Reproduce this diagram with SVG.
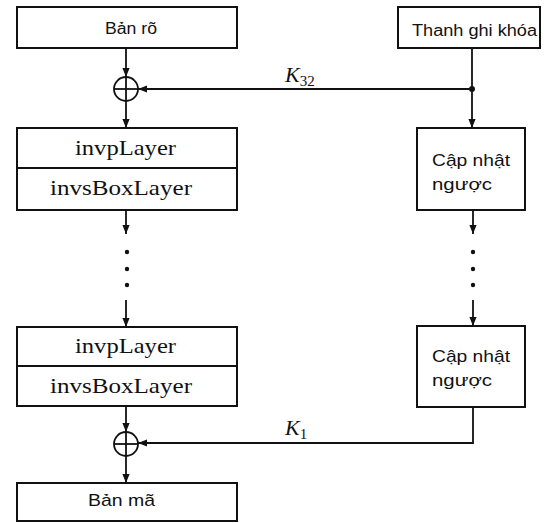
<svg xmlns="http://www.w3.org/2000/svg" width="548" height="523" viewBox="0 0 548 523">
<style>
.box{fill:#fff;stroke:#111;stroke-width:2}
.ln{fill:none;stroke:#111;stroke-width:1.8}
.sans{font-family:"Liberation Sans","DejaVu Sans",sans-serif;fill:#111}
.serif{font-family:"Liberation Serif","DejaVu Serif",serif;fill:#111}
.dot{fill:#111}
</style>
<defs>
<marker id="ah" viewBox="0 0 10 10" refX="10" refY="5" markerWidth="9" markerHeight="9" markerUnits="userSpaceOnUse" orient="auto">
<path d="M0,1 L10,5 L0,9 Z" fill="#111"/>
</marker>
</defs>
<g id="ban-ro"><rect class="box" x="17" y="7" width="220" height="41"/><text class="sans" x="105" y="34" font-size="16" textLength="52" lengthAdjust="spacingAndGlyphs">Bản rõ</text></g>
<g id="thanh-ghi-khoa"><rect class="box" x="398" y="7" width="142" height="41"/><text class="sans" x="412" y="36" font-size="16" textLength="125" lengthAdjust="spacingAndGlyphs">Thanh ghi khóa</text></g>
<g id="xor1"><circle class="ln" cx="126" cy="89" r="12"/><line class="ln" x1="114" y1="89" x2="138" y2="89"/><line class="ln" x1="126" y1="77" x2="126" y2="101"/></g>
<g id="layer1"><rect class="box" x="17" y="128" width="220" height="40"/><text class="serif" x="75" y="155" font-size="21" textLength="101" lengthAdjust="spacingAndGlyphs">invpLayer</text><rect class="box" x="17" y="168" width="220" height="42"/><text class="serif" x="50" y="195" font-size="21" textLength="142" lengthAdjust="spacingAndGlyphs">invsBoxLayer</text></g>
<g id="capnhat1"><rect class="box" x="417" y="128" width="108" height="82"/><text class="sans" x="432" y="166" font-size="17" textLength="78" lengthAdjust="spacingAndGlyphs">Cập nhật</text><text class="sans" x="432" y="190" font-size="17" textLength="60" lengthAdjust="spacingAndGlyphs">ngược</text></g>
<g id="layer2"><rect class="box" x="17" y="327" width="220" height="39"/><text class="serif" x="75" y="353" font-size="21" textLength="101" lengthAdjust="spacingAndGlyphs">invpLayer</text><rect class="box" x="17" y="366" width="220" height="40"/><text class="serif" x="50" y="393" font-size="21" textLength="142" lengthAdjust="spacingAndGlyphs">invsBoxLayer</text></g>
<g id="capnhat2"><rect class="box" x="417" y="326" width="108" height="81"/><text class="sans" x="432" y="362" font-size="17" textLength="78" lengthAdjust="spacingAndGlyphs">Cập nhật</text><text class="sans" x="432" y="386" font-size="17" textLength="60" lengthAdjust="spacingAndGlyphs">ngược</text></g>
<g id="xor2"><circle class="ln" cx="126" cy="444" r="12"/><line class="ln" x1="114" y1="444" x2="138" y2="444"/><line class="ln" x1="126" y1="432" x2="126" y2="456"/></g>
<g id="ban-ma"><rect class="box" x="17" y="483" width="220" height="38"/><text class="sans" x="88" y="506" font-size="17" textLength="67" lengthAdjust="spacingAndGlyphs">Bản mã</text></g>
<g id="connectors">
<line class="ln" x1="126" y1="48" x2="126" y2="77" marker-end="url(#ah)"/>
<line class="ln" x1="126" y1="101" x2="126" y2="128" marker-end="url(#ah)"/>
<line class="ln" x1="472" y1="48" x2="472" y2="89"/>
<circle class="dot" cx="472" cy="89" r="3"/>
<line class="ln" x1="472" y1="89" x2="138" y2="89" marker-end="url(#ah)"/>
<line class="ln" x1="472" y1="89" x2="472" y2="128" marker-end="url(#ah)"/>
<text class="serif" x="285" y="82" font-size="22" font-style="italic">K<tspan font-size="15" font-style="normal" dy="4">32</tspan></text>
<line class="ln" x1="126" y1="210" x2="126" y2="234" marker-end="url(#ah)"/>
<circle class="dot" cx="127" cy="252" r="2.2"/><circle class="dot" cx="127" cy="269" r="2.2"/><circle class="dot" cx="127" cy="285" r="2.2"/>
<line class="ln" x1="126" y1="300" x2="126" y2="327" marker-end="url(#ah)"/>
<line class="ln" x1="473" y1="210" x2="473" y2="234" marker-end="url(#ah)"/>
<circle class="dot" cx="473" cy="252" r="2.2"/><circle class="dot" cx="473" cy="269" r="2.2"/><circle class="dot" cx="473" cy="285" r="2.2"/>
<line class="ln" x1="473" y1="300" x2="473" y2="326" marker-end="url(#ah)"/>
<line class="ln" x1="126" y1="406" x2="126" y2="432" marker-end="url(#ah)"/>
<line class="ln" x1="126" y1="456" x2="126" y2="483" marker-end="url(#ah)"/>
<polyline class="ln" points="473,407 473,443 138,443" marker-end="url(#ah)"/>
<text class="serif" x="285" y="435" font-size="22" font-style="italic">K<tspan font-size="15" font-style="normal" dy="4">1</tspan></text>
</g>
</svg>
